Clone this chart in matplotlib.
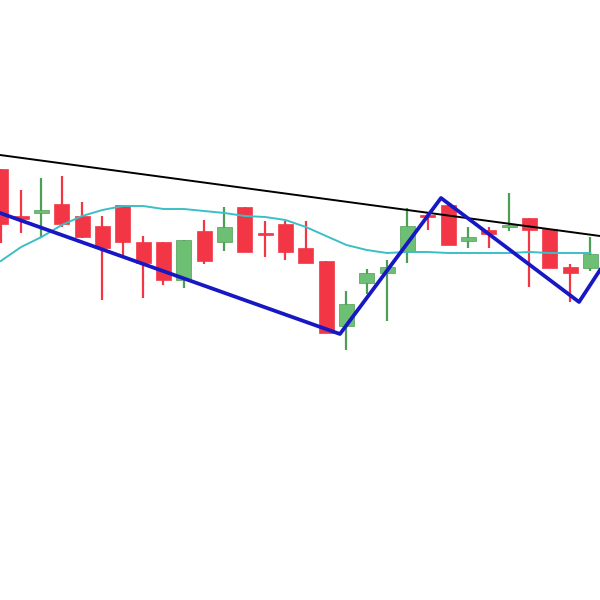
import numpy as np
import matplotlib
matplotlib.use('Agg')
import matplotlib.pyplot as plt

# candle data (price units, higher = up)
opens = [431, 383, 388, 396, 384, 374, 395, 358, 358, 320, 369, 358, 393, 366, 376, 352, 339, 274, 317, 327, 349, 385, 395, 359, 370, 373, 382, 371, 333, 332]
closes = [376, 382, 389, 376, 363, 352, 358, 337, 320, 360, 339, 373, 348, 366, 348, 337, 267, 296, 327, 333, 374, 383, 355, 363, 366, 375, 370, 332, 327, 346]
highs = [431, 410, 422, 424, 398, 384, 395, 364, 358, 360, 380, 393, 393, 379, 379, 379, 339, 309, 331, 340, 392, 388, 395, 373, 373, 407, 382, 371, 336, 363]
lows = [357, 367, 362, 373, 362, 300, 345, 302, 315, 312, 336, 349, 348, 343, 340, 337, 267, 250, 306, 279, 337, 370, 355, 352, 352, 369, 313, 332, 298, 329]

# moving average, one value per candle
ma = [339, 353, 363, 375, 384, 390, 394, 394, 391, 391, 389, 387, 384, 383, 380, 373, 364, 355, 350, 347, 348, 348, 347, 347, 347, 347, 348, 347, 347, 347]

# zigzag swing points (candle index, price)
zz_x = [-0.04, 16.68, 21.65, 28.44, 29.47]
zz_y = [387, 266, 402, 298, 330]

# resistance trendline
tl_x = [-0.04, 29.47]
tl_y = [445, 364]

RED = '#f23645'
GREEN = '#6cbf73'
GREEN_DARK = '#4e9e56'

fig = plt.figure(figsize=(6, 6), dpi=100)
ax = fig.add_axes([0, 0, 1, 1])
x = np.arange(len(opens))
o = np.array(opens)
c = np.array(closes)
up = c > o
colors = np.where(up, GREEN, RED)
wick_colors = np.where(up, GREEN_DARK, RED)

ax.vlines(x, lows, highs, colors=wick_colors, linewidth=1.6, zorder=2)
body_h = np.maximum(np.abs(c - o), 2.5)
body_b = np.minimum(o, c) - (body_h - np.abs(c - o)) / 2
ax.bar(x, body_h, bottom=body_b, width=0.74, color=colors,
       edgecolor=np.where(up, GREEN_DARK, RED), linewidth=0.5, zorder=3)

ax.plot(tl_x, tl_y, color='black', linewidth=1.4, zorder=4)
ax.plot(x, ma, color='#3bbfc6', linewidth=1.4, zorder=4, solid_joinstyle='round')
ax.plot(zz_x, zz_y, color='#1717c4', linewidth=2.7, zorder=5)

ax.set_xlim(-0.04, 29.47)
ax.set_ylim(0, 600)
ax.axis('off')
fig.savefig('out.png', dpi=100, facecolor='white')
